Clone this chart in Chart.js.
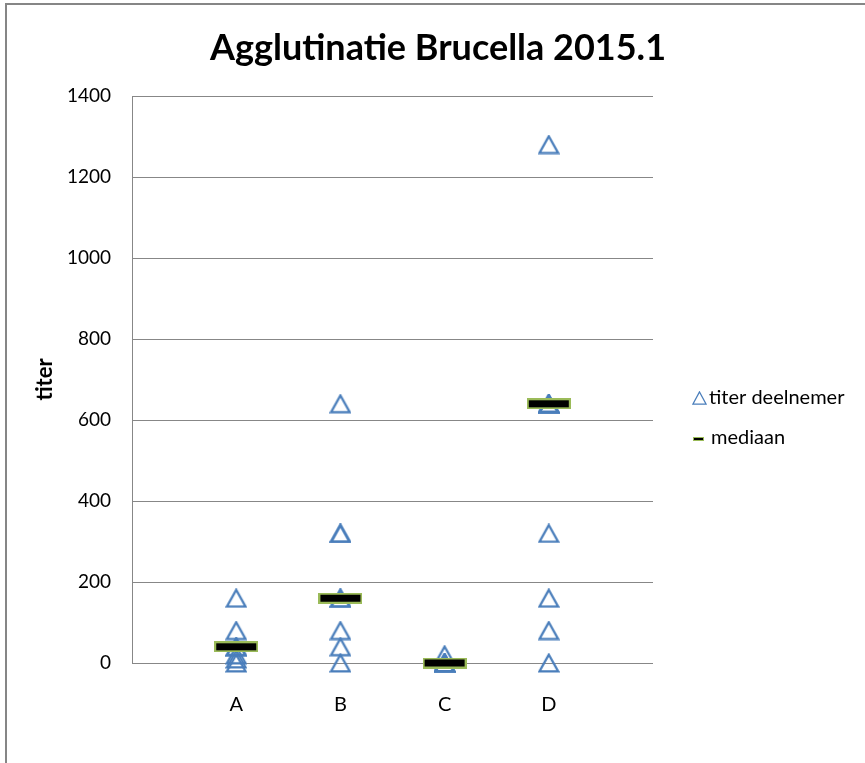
<!DOCTYPE html>
<html><head><meta charset="utf-8">
<script src="https://cdn.jsdelivr.net/npm/chart.js@4/dist/chart.umd.min.js"></script>
<style>html,body{margin:0;padding:0;background:#fff;overflow:hidden}#wrap{position:relative;width:865px;height:763px}</style>
</head><body><div id="wrap"><canvas id="c" width="865" height="763"></canvas></div>
<script>
// ---- data ----
const categories = ['A', 'B', 'C', 'D'];
const titerA = [160, 80, 40, 40, 20, 10, 0];
const titerB = [640, 320, 320, 160, 160, 80, 40, 0];
const titerC = [20, 0, 0, 0, 0];
const titerD = [1280, 640, 640, 640, 640, 320, 160, 80, 0];
const medians = [40, 160, 0, 640];
const yMin = 0, yMax = 1400, yStep = 200;
const chartTitle = 'Agglutinatie Brucella 2015.1';
const yTitle = 'titer';
const legendLabels = ['titer deelnemer', 'mediaan'];

// ---- styling helpers ----
const FONT = 'Lato, "Open Sans", sans-serif';
const BLUE = '#4A7EBB';
const GREEN = '#9BBB59';
function triangleImg(w, h, lw) {
  const c = document.createElement('canvas'); c.width = w; c.height = h;
  const x = c.getContext('2d');
  x.strokeStyle = BLUE; x.lineWidth = lw; x.lineJoin = 'miter';
  x.beginPath();
  x.moveTo(w / 2, lw * 0.75);
  x.lineTo(lw * 0.75, h - lw * 0.75);
  x.lineTo(w - lw * 0.75, h - lw * 0.75);
  x.closePath(); x.stroke();
  return c;
}
function medianImg(w, h, b) {
  const c = document.createElement('canvas'); c.width = w; c.height = h;
  const x = c.getContext('2d');
  x.fillStyle = GREEN; x.fillRect(0, 0, w, h);
  x.fillStyle = '#000'; x.fillRect(b, b, w - 2 * b, h - 2 * b);
  return c;
}
const triPoint = triangleImg(22, 20, 2.2);
const medPoint = medianImg(44, 11, 2);
const triLegend = triangleImg(15, 14, 1.2);
const medLegend = medianImg(11, 4, 1);

const series = [titerA, titerB, titerC, titerD];
const titerPoints = [];
series.forEach((arr, i) => arr.forEach(v => titerPoints.push({ x: i + 1, y: v })));
const medianPoints = medians.map((v, i) => ({ x: i + 1, y: v }));

const yTicks = [];
for (let v = yMin; v <= yMax; v += yStep) yTicks.push(v);

const decor = {
  id: 'decor',
  beforeDraw(chart) {
    const ctx = chart.ctx;
    ctx.save();
    ctx.strokeStyle = '#868686'; ctx.lineWidth = 2;
    ctx.strokeRect(6, 4, 1200, 1200);
    ctx.restore();
  },
  afterDraw(chart) {
    const ctx = chart.ctx;
    ctx.save();
    ctx.fillStyle = '#000';
    ctx.font = 'bold 36px ' + FONT;
    ctx.textAlign = 'center'; ctx.textBaseline = 'alphabetic';
    ctx.fillText(chartTitle, 438, 60);
    ctx.font = '20px ' + FONT;
    ctx.textAlign = 'left'; ctx.textBaseline = 'middle';
    ctx.drawImage(triLegend, 692, 391);
    ctx.fillText(legendLabels[0], 709, 398);
    ctx.drawImage(medLegend, 693, 437);
    ctx.fillText(legendLabels[1], 711, 438);
    ctx.restore();
  }
};

new Chart(document.getElementById('c'), {
  type: 'scatter',
  data: {
    datasets: [
      { label: legendLabels[1], data: medianPoints, pointStyle: medPoint, order: 0, clip: false },
      { label: legendLabels[0], data: titerPoints, pointStyle: triPoint, order: 1, clip: false }
    ]
  },
  options: {
    responsive: false,
    animation: false,
    devicePixelRatio: 1,
    layout: { padding: { top: 96, right: 212, bottom: 0, left: 0 } },
    plugins: { legend: { display: false }, title: { display: false }, tooltip: { enabled: false } },
    scales: {
      x: {
        type: 'linear', min: 0, max: categories.length + 1,
        afterBuildTicks: s => { s.ticks = categories.map((_, i) => ({ value: i + 1 })); },
        afterFit: s => { s.height = 100; },
        ticks: { callback: v => categories[v - 1] ?? '', color: '#000', font: { family: FONT, size: 20 }, padding: 30, maxRotation: 0 },
        grid: { display: false, drawTicks: false },
        border: { display: false }
      },
      y: {
        min: yMin, max: yMax,
        afterBuildTicks: s => { s.ticks = yTicks.map(v => ({ value: v })); },
        afterFit: s => { s.width = 132; },
        ticks: { callback: v => String(v), color: '#000', font: { family: FONT, size: 19 }, padding: 21 },
        grid: { color: '#878787', drawTicks: false, lineWidth: 1 },
        border: { color: '#878787', width: 1 },
        title: { display: true, text: yTitle, color: '#000', font: { family: FONT, size: 22, weight: 'bold' }, padding: { top: 32 } }
      }
    }
  },
  plugins: [decor]
});
</script>
</body></html>
